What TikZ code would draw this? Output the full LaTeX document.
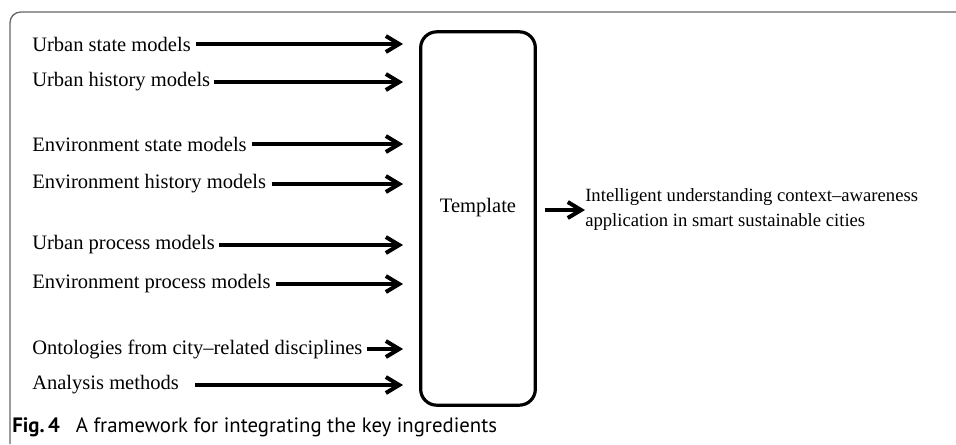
\documentclass[tikz,border=0pt]{standalone}
\usepackage{fontspec}
\setmainfont{Liberation Serif}
\newfontfamily\capfont{PT Sans}
\usetikzlibrary{arrows.meta}

\begin{document}
\begin{tikzpicture}[x=0.75pt,y=-0.75pt,
  model/.style={anchor=west,inner sep=0pt,font=\fontsize{15.4}{18}\selectfont},
  feed/.style={line width=3pt,shorten >=12pt,-{Straight Barb[length=10pt,width=12pt]}},
  frame/.style={draw=black!60,line width=1pt,rounded corners=8pt}]

\useasboundingbox (0,0) rectangle (956,444);
\draw[frame] (956,12) -- (10,12) -- (10,444);

\node (tpl) at (478,218.5) [draw,line width=2.4pt,rounded corners=12pt,minimum width=86pt,minimum height=280pt] {};
\node (tpltext) at (478,208) [font=\fontsize{15.4}{18}\selectfont] {Template};

\node (ustate) at (32,44) [model] {Urban state models};
\node (uhist) at (32,82) [model] {Urban history models};
\node (estate) at (32,144) [model] {Environment state models};
\node (ehist) at (32,184) [model] {Environment history models};
\node (uproc) at (32,245) [model] {Urban process models};
\node (eproc) at (32,284) [model] {Environment process models};
\node (onto) at (32,349) [model] {Ontologies from city--related disciplines};
\node (anal) at (32,385) [model] {Analysis methods};

\draw[feed] ([xshift=4pt]ustate.east) -- (ustate -| tpl.west);
\draw[feed] ([xshift=3pt]uhist.east) -- (uhist -| tpl.west);
\draw[feed] ([xshift=4pt]estate.east) -- (estate -| tpl.west);
\draw[feed] ([xshift=4pt]ehist.east) -- (ehist -| tpl.west);
\draw[feed] ([xshift=3pt]uproc.east) -- (uproc -| tpl.west);
\draw[feed] ([xshift=4pt]eproc.east) -- (eproc -| tpl.west);
\draw[feed] ([xshift=3pt]onto.east) -- (onto -| tpl.west);
\draw[feed] ([xshift=12pt]anal.east) -- (anal -| tpl.west);

\node (app) at (585,210) [anchor=west,inner sep=0pt,align=left,font=\fontsize{14}{18.75}\selectfont]
{Intelligent understanding context--awareness\\application in smart sustainable cities};
\draw[feed,shorten >=0pt] ([xshift=6pt]tpl.east |- app.west) -- (app.west);

\node (cap) at (12,432) [anchor=base west,inner sep=0pt,font=\capfont\fontsize{15.6}{18}\selectfont]
{\textbf{Fig.\,4}\enspace\ A framework for integrating the key ingredients};

\end{tikzpicture}
\end{document}
